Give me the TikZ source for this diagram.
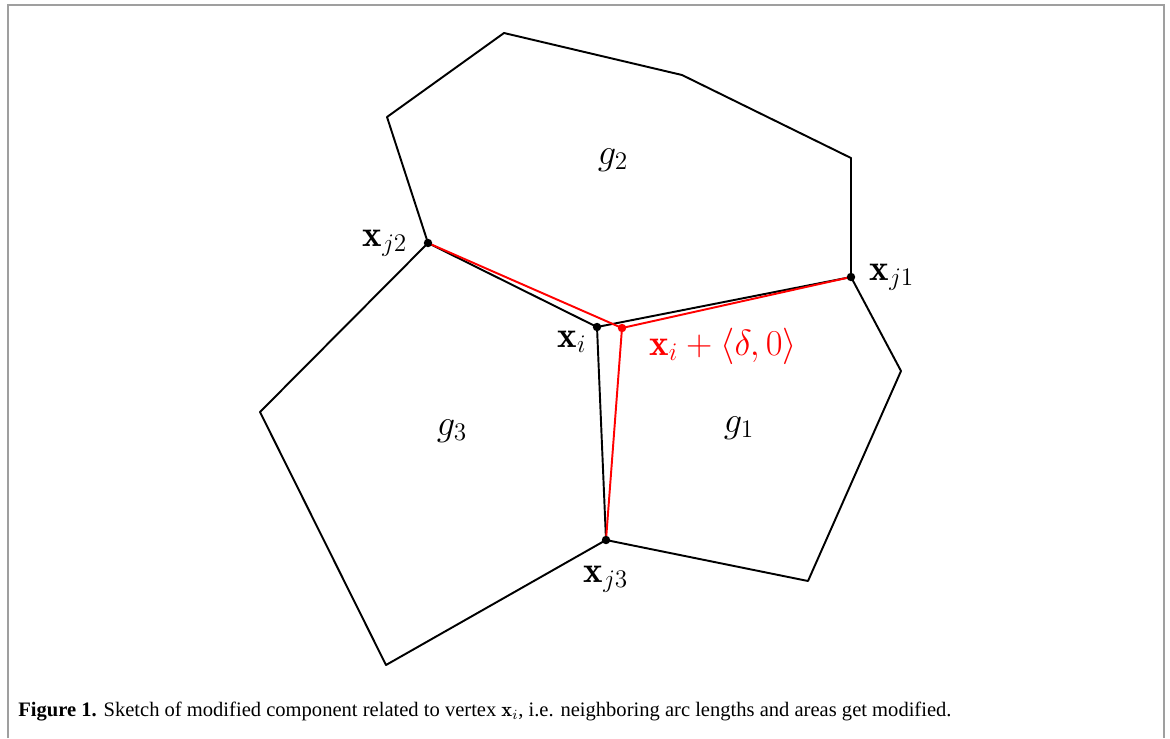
\documentclass[tikz,border=0pt]{standalone}
\usepackage{fontspec}
\newfontfamily\capfont{Liberation Serif}
\usetikzlibrary{calc}

\tikzset{
    cell/.style={line width=1.1pt, line join=round},
    moved/.style={red, line width=1.1pt, line join=round},
    vertexdot/.style={circle, fill=#1, inner sep=0pt, minimum size=4.8pt},
    lbl/.style={font=\fontsize{21}{24}\selectfont}
}

\begin{document}
\begin{tikzpicture}[x=0.02cm, y=-0.02cm]
    \useasboundingbox (0,0) rectangle (1170,738);
    % Frame of the figure
    \draw[gray!75, line width=1.2pt] (8,738) -- (8,5) -- (1164,5) -- (1164,738);

    % Define the vertices
    \coordinate (xi) at (597,327);
    \coordinate (xd) at (622,328);
    \coordinate (xj1) at (851,277);
    \coordinate (xj2) at (428,243);
    \coordinate (xj3) at (606,540);

    % Draw the three cells
    \draw[cell] (xj2) -- (387,117) -- (504,33) -- (682,75) -- (851,158) -- (xj1);
    \draw[cell] (xj1) -- (901,371) -- (808,581) -- (xj3);
    \draw[cell] (xj3) -- (386,665) -- (260,412) -- (xj2);
    \draw[cell] (xj1) -- (xi) -- (xj2);
    \draw[cell] (xi) -- (xj3);

    % Draw the shifted vertex
    \draw[moved] (xj2) -- (xd) -- (xj1);
    \draw[moved] (xd) -- (xj3);

    \node[vertexdot=black] at (xi) {};
    \node[vertexdot=black] at (xj1) {};
    \node[vertexdot=black] at (xj2) {};
    \node[vertexdot=black] at (xj3) {};
    \node[vertexdot=red] at (xd) {};

    % Labels
    \node[lbl] (lj2) at (385,243) {$\mathbf{x}_{j2}$};
    \node[lbl] (lj1) at (892,277) {$\mathbf{x}_{j1}$};
    \node[lbl] (li) at (572,342) {$\mathbf{x}_{i}$};
    \node[lbl] (lj3) at (606,579) {$\mathbf{x}_{j3}$};
    \node[lbl, red] (ld) at (723,346) {$\mathbf{x}_{i}+\langle\delta,0\rangle$};
    \node[lbl] (g2) at (613,160) {$g_2$};
    \node[lbl] (g3) at (452,431) {$g_3$};
    \node[lbl] (g1) at (739,428) {$g_1$};

    % Caption
    \node[anchor=base west, inner sep=0pt, font=\capfont\fontsize{11.7}{14}\selectfont] (cap) at (18,716)
        {\textbf{Figure 1.} Sketch of modified component related to vertex $\mathbf{x}_i$, i.e. neighboring arc lengths and areas get modified.};
\end{tikzpicture}
\end{document}
